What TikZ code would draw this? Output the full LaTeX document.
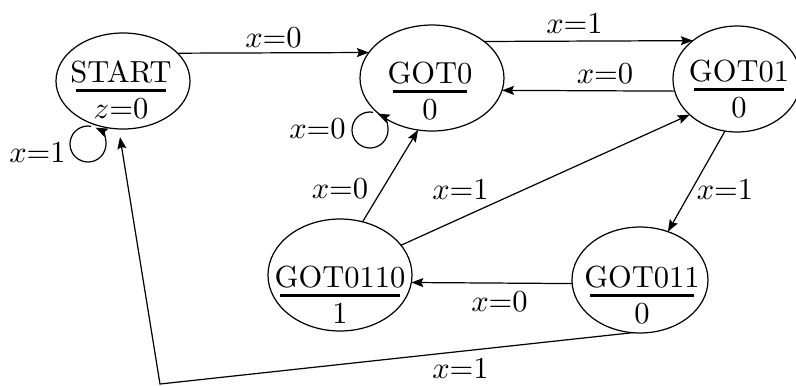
\documentclass[tikz,border=0pt]{standalone}
\usetikzlibrary{shapes.geometric,arrows.meta}
\newdimen\pxu \pxu=0.32787pt
\newsavebox\stbox
\newcommand\stlab[2]{\sbox\stbox{#1}\vbox{\offinterlineskip\halign{\hfil##\hfil\cr
 \usebox\stbox\cr
 \noalign{\kern6.5\pxu}
 \rule{\dimexpr\wd\stbox-11\pxu\relax}{3\pxu}\cr
 \noalign{\kern5.5\pxu}
 \rule{0pt}{20\pxu}#2\cr}}}
\tikzset{
  state/.style={ellipse, draw, inner sep=0pt, outer sep=0pt},
  stext/.style={anchor=base, inner sep=0pt},
  lab/.style={inner sep=0pt},
  trans/.style={->}
}
\begin{document}
\begin{tikzpicture}[x=0.32787pt, y=-0.32787pt, font=\normalsize,
  line width=0.4pt, >={Stealth[length=3.93pt,width=2.95pt,inset=0.66pt]}]
\useasboundingbox (0,0) rectangle (796,385);
% states
\node[state, minimum width=43.93pt, minimum height=31.48pt] (st)    at (123,81)  {};
\node[state, minimum width=47.21pt, minimum height=34.75pt] (g0)    at (432,78)  {};
\node[state, minimum width=41.97pt, minimum height=34.75pt] (g01)   at (737,79)  {};
\node[state, minimum width=47.21pt, minimum height=36.72pt] (g0110) at (340,275) {};
\node[state, minimum width=44.59pt, minimum height=34.75pt] (g011)  at (640,280) {};
% state texts
\node[stext] (st-t)    at (121,118) {\stlab{START}{$z$=0}};
\node[stext] (g0-t)    at (430,119) {\stlab{GOT0}{0}};
\node[stext] (g01-t)   at (739,117) {\stlab{GOT01}{0}};
\node[stext] (g0110-t) at (340,323) {\stlab{GOT0110}{1}};
\node[stext] (g011-t)  at (642,323) {\stlab{GOT011}{0}};
% helper coordinates
\coordinate (corner) at (160,384);
\coordinate (stin)   at (120,137);
\coordinate (stloop) at (88,144);
\coordinate (g0loop) at (370,130);
% transitions
\draw[trans] (st.27.2) -- (g0.158.5);
\draw[trans] (g0.35.6) -- (g01.139.6);
\draw[trans] (g01.-169.1) -- (g0.-10.5);
\draw[trans] (g0110.67.5) -- (g0.-105.5);
\draw[trans] (g0110.26.2) -- (g01.-143.7);
\draw[trans] (g01.-103.8) -- (g011.60);
\draw[trans] (g011.-177.5) -- (g0110.-6.4);
\draw[trans] (g011.-98.6) -- (corner) -- (stin);
% self loops
\draw[trans] (stloop) ++(-80:18) arc[start angle=-80, end angle=-425, radius=18];
\draw[trans] (g0loop) ++(-80:18) arc[start angle=-80, end angle=-425, radius=18];
% labels
\node[lab] (l1)  at (273.5,38)  {$x$=0};
\node[lab] (l2)  at (574.5,23)  {$x$=1};
\node[lab] (l3)  at (605,74)    {$x$=0};
\node[lab] (l4)  at (317.5,129) {$x$=0};
\node[lab] (l5)  at (37.5,152)  {$x$=1};
\node[lab] (l6)  at (340,189)   {$x$=0};
\node[lab] (l7)  at (460.5,189) {$x$=1};
\node[lab] (l8)  at (725,189)   {$x$=1};
\node[lab] (l9)  at (499.5,302) {$x$=0};
\node[lab] (l10) at (460.5,368) {$x$=1};
\end{tikzpicture}
\end{document}
